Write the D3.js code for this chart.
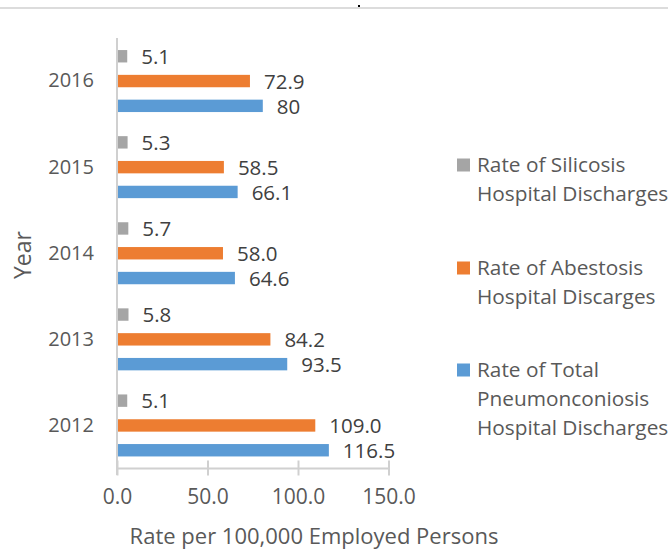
<!DOCTYPE html>
<html>
<head>
<meta charset="utf-8">
<script src="https://cdn.jsdelivr.net/npm/d3@7"></script>
<style>
  body { margin: 0; background: #fff; }
  text { font-family: "Open Sans", sans-serif; }
</style>
</head>
<body>
<script>
const w = 668
const h = 552

// data
const years = ['2012', '2013', '2014', '2015', '2016']
const silicosis = [5.1, 5.8, 5.7, 5.3, 5.1]
const abestosis = [109.0, 84.2, 58.0, 58.5, 72.9]
const total = [116.5, 93.5, 64.6, 66.1, 80]
const totalLabels = ['116.5', '93.5', '64.6', '66.1', '80']
const xTicks = [0, 50, 100, 150]
const colors = ['#A5A5A5', '#ED7D31', '#5B9BD5']
const legendLines = [
  ['Rate of Silicosis', 'Hospital Discharges'],
  ['Rate of Abestosis', 'Hospital Discarges'],
  ['Rate of Total', 'Pneumonconiosis', 'Hospital Discharges']
]

const rows = years.map((y, i) => ({
  year: y,
  vals: [
    { s: 0, v: silicosis[i], label: silicosis[i].toFixed(1) },
    { s: 1, v: abestosis[i], label: abestosis[i].toFixed(1) },
    { s: 2, v: total[i], label: totalLabels[i] }
  ]
}))

const svg = d3.select('body').append('svg')
  .attr('width', w)
  .attr('height', h)

// top rule
svg.append('line')
  .attr('x1', 0).attr('x2', w).attr('y1', 8).attr('y2', 8)
  .attr('stroke', '#dcdcdc').attr('stroke-width', 2)
svg.append('rect').attr('x', 358).attr('y', 5).attr('width', 2).attr('height', 2).attr('fill', '#000')

const x = d3.scaleLinear().domain([0, 150]).range([117, 388.5])
const y = d3.scaleBand().domain(years.slice().reverse()).range([38, 468.5])
const inner = d3.scaleBand().domain([0, 1, 2])
  .range([y.bandwidth() * 0.14, y.bandwidth() * 0.86])
  .paddingInner(0.5)

// x axis
const xAxis = svg.append('g')
  .attr('transform', 'translate(0,468.5)')
  .call(d3.axisBottom(x).tickValues(xTicks).tickFormat(d3.format('.1f')).tickSize(7).tickPadding(14))
xAxis.select('.domain').remove()
xAxis.selectAll('.tick line').attr('stroke', '#d0d0d0').attr('stroke-width', 2).attr('y1', -8)
xAxis.selectAll('.tick text').attr('fill', '#595959').attr('font-size', '21px')
svg.append('line')
  .attr('x1', x(0)).attr('x2', x(150)).attr('y1', 468.5).attr('y2', 468.5)
  .attr('stroke', '#d0d0d0').attr('stroke-width', 2)

// y axis
const yAxis = svg.append('g')
  .attr('transform', 'translate(' + x(0) + ',0)')
  .call(d3.axisLeft(y).tickSize(0).tickPadding(23))
yAxis.select('.domain').remove()
yAxis.selectAll('.tick text').attr('fill', '#595959').attr('font-size', '20px')
svg.append('line')
  .attr('x1', x(0)).attr('x2', x(0)).attr('y1', 38).attr('y2', 475)
  .attr('stroke', '#d0d0d0').attr('stroke-width', 2)

// bars
const groups = svg.selectAll('g.grp')
  .data(rows)
  .enter()
  .append('g')
  .attr('class', 'grp')
  .attr('transform', d => 'translate(0,' + y(d.year) + ')')

groups.selectAll('rect')
  .data(d => d.vals)
  .enter()
  .append('rect')
  .attr('x', x(0) + 1)
  .attr('y', d => inner(d.s))
  .attr('width', d => x(d.v) - x(0))
  .attr('height', inner.bandwidth())
  .attr('fill', d => colors[d.s])

groups.selectAll('text')
  .data(d => d.vals)
  .enter()
  .append('text')
  .attr('x', d => x(d.v) + 15)
  .attr('y', d => inner(d.s) + inner.bandwidth() / 2 + 0.5)
  .attr('dy', '0.35em')
  .attr('fill', '#404040')
  .attr('font-size', '20.5px')
  .text(d => d.label)

// axis titles
svg.append('text')
  .attr('x', 314).attr('y', 536).attr('dy', '0.35em')
  .attr('text-anchor', 'middle')
  .attr('fill', '#595959').attr('font-size', '22px')
  .text('Rate per 100,000 Employed Persons')

svg.append('text')
  .attr('transform', 'translate(23,255) rotate(-90)')
  .attr('dy', '0.35em')
  .attr('text-anchor', 'middle')
  .attr('fill', '#595959').attr('font-size', '23px')
  .text('Year')

// legend
const legendY = [165, 268, 370]
const legend = svg.selectAll('g.leg')
  .data(legendLines)
  .enter()
  .append('g')
  .attr('class', 'leg')
  .attr('transform', (d, i) => 'translate(457,' + legendY[i] + ')')

legend.append('rect')
  .attr('x', 0).attr('y', -6.5)
  .attr('width', 13).attr('height', 13)
  .attr('fill', (d, i) => colors[i])

legend.append('text')
  .attr('fill', '#595959')
  .attr('font-size', '20.8px')
  .selectAll('tspan')
  .data(d => d)
  .enter()
  .append('tspan')
  .attr('x', 20)
  .attr('y', (d, i) => i * 29)
  .attr('dy', '0.35em')
  .text(d => d)
</script>
</body>
</html>
